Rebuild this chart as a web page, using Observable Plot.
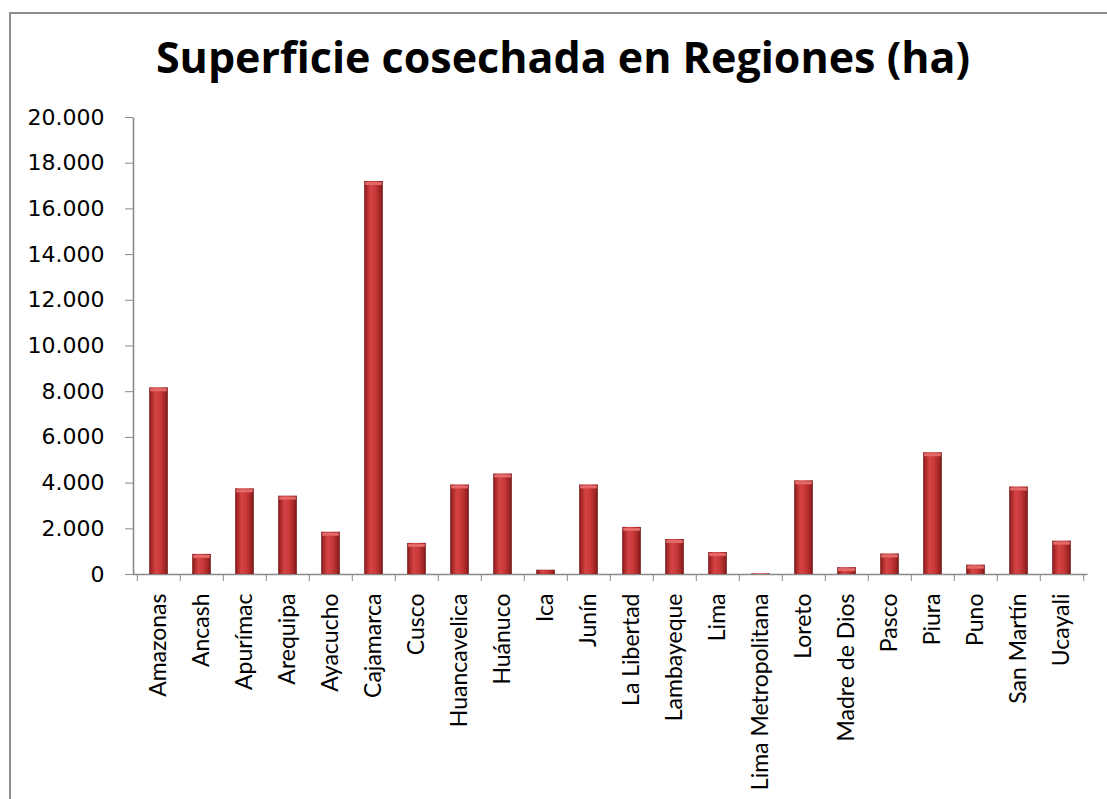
<!DOCTYPE html>
<html>
<head>
<meta charset="utf-8">
<script src="https://cdn.jsdelivr.net/npm/d3@7"></script>
<script src="https://cdn.jsdelivr.net/npm/@observablehq/plot@0.6"></script>
<style>
  body { margin: 0; background: #fff; width: 1107px; height: 799px; overflow: hidden; position: relative; }
  #border { position: absolute; left: 9px; top: 12px; width: 1200px; height: 900px;
            border-top: 2px solid #8e8e8e; border-left: 2px solid #8e8e8e; }
  #title { position: absolute; left: 0; top: 27px; width: 1126px; text-align: center;
           font-family: "Open Sans", sans-serif; font-weight: 700; font-size: 43px; line-height: normal; color: #000; }
  #chart { position: absolute; left: 0; top: 90px; }
</style>
</head>
<body>
<div id="border"></div>
<div id="title">Superficie cosechada en Regiones (ha)</div>
<div id="chart"></div>
<script>
const regions = ["Amazonas", "Ancash", "Apurímac", "Arequipa", "Ayacucho", "Cajamarca", "Cusco",
  "Huancavelica", "Huánuco", "Ica", "Junín", "La Libertad", "Lambayeque", "Lima",
  "Lima Metropolitana", "Loreto", "Madre de Dios", "Pasco", "Piura", "Puno", "San Martín", "Ucayali"];
const values = [8170, 880, 3750, 3430, 1850, 17200, 1360,
  3920, 4400, 190, 3920, 2060, 1530, 960,
  30, 4100, 300, 900, 5330, 410, 3830, 1460];
const yTicks = [0, 2000, 4000, 6000, 8000, 10000, 12000, 14000, 16000, 18000, 20000];

const data = regions.map((r, i) => ({region: r, value: values[i]}));

const W = 1107, H = 709, mL = 133, mR = 20, mT = 27, mB = 225;
const pw = W - mL - mR, ph = H - mT - mB;
const bw = pw / regions.length;
const barW = 19;
const inset = (bw - barW) / 2;
const fmt = d => d3.format(",")(d).replace(/,/g, ".");

const chart = Plot.plot({
  width: W, height: H,
  marginLeft: mL, marginRight: mR, marginTop: mT, marginBottom: mB,
  style: {fontFamily: "DejaVu Sans", fontSize: "22px", color: "#000", background: "transparent", overflow: "visible"},
  x: {domain: regions, padding: 0, label: null},
  y: {domain: [0, 20000], label: null},
  marks: [
    Plot.frame({stroke: "#8a8a8a", strokeWidth: 1.6, strokeDasharray: `0 ${pw + ph} ${pw + ph} 0`}),
    Plot.axisY({ticks: yTicks, tickSize: 8, tickPadding: 21, stroke: "#8a8a8a", fill: "#000", label: null, tickFormat: fmt}),
    Plot.axisX({tickSize: 7, stroke: "#8a8a8a", dx: -bw / 2, tickFormat: () => "", label: null}),
    Plot.axisX({ticks: [regions[regions.length - 1]], tickSize: 7, stroke: "#8a8a8a", dx: bw / 2, tickFormat: () => "", label: null}),
    Plot.axisX({tickSize: 0, tickPadding: 19, tickRotate: -90, fontFamily: "Lato", fontSize: 23, fill: "#000", label: null}),
    Plot.barY(data, {x: "region", y: "value", fill: "url(#barGrad)", insetLeft: inset, insetRight: inset}),
    Plot.tickY(data, {x: "region", y: "value", filter: d => d.value > 200, stroke: "#e46a6a", strokeWidth: 3, insetLeft: inset + 1, insetRight: inset + 1, dy: 2})
  ]
});

d3.select(chart).insert("defs", ":first-child").html(`
  <linearGradient id="barGrad" x1="0" x2="1" y1="0" y2="0">
    <stop offset="0%" stop-color="#7a1717"/>
    <stop offset="15%" stop-color="#b02c2c"/>
    <stop offset="35%" stop-color="#d54444"/>
    <stop offset="60%" stop-color="#c83838"/>
    <stop offset="85%" stop-color="#a32626"/>
    <stop offset="100%" stop-color="#701414"/>
  </linearGradient>`);

document.getElementById("chart").appendChild(chart);
</script>
</body>
</html>
